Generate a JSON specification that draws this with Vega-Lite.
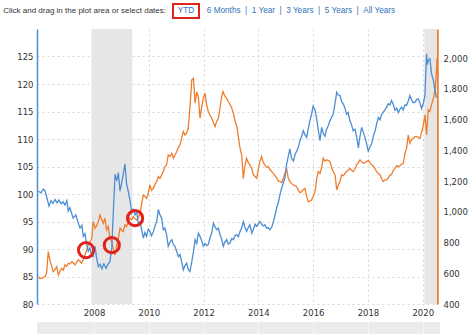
{
"$schema":"https://vega.github.io/schema/vega-lite/v6.json",
"background":"white",
"padding":{"left":2,"top":3,"right":0,"bottom":0},
"config":{"view":{"stroke":null},"axis":{"labelFont":"DejaVu Sans","labelFontSize":8.5,"labelColor":"#333333"}},
"datasets":{
"bands":[{"s":2007.91,"e":2009.40},{"s":2020.06,"e":2020.52}],
"annot":[{"t":2007.71,"v":89.8},{"t":2008.65,"v":90.7},{"t":2009.50,"v":95.6}],
"usd":[{"t":2005.97,"v":100.5},{"t":2006.07,"v":100.2},{"t":2006.15,"v":100.9},{"t":2006.21,"v":100.6},{"t":2006.27,"v":99.5},{"t":2006.36,"v":97.8},{"t":2006.43,"v":98.8},{"t":2006.50,"v":98.3},{"t":2006.58,"v":99.0},{"t":2006.65,"v":98.4},{"t":2006.72,"v":98.9},{"t":2006.80,"v":98.2},{"t":2006.87,"v":98.6},{"t":2006.94,"v":98.0},{"t":2007.01,"v":98.8},{"t":2007.06,"v":96.9},{"t":2007.12,"v":97.5},{"t":2007.24,"v":95.6},{"t":2007.34,"v":96.2},{"t":2007.42,"v":94.8},{"t":2007.49,"v":93.8},{"t":2007.56,"v":94.3},{"t":2007.61,"v":92.3},{"t":2007.67,"v":92.8},{"t":2007.73,"v":91.0},{"t":2007.79,"v":89.6},{"t":2007.85,"v":90.2},{"t":2007.91,"v":88.9},{"t":2007.97,"v":88.6},{"t":2008.04,"v":90.5},{"t":2008.09,"v":88.5},{"t":2008.16,"v":86.8},{"t":2008.22,"v":87.2},{"t":2008.29,"v":86.4},{"t":2008.36,"v":87.3},{"t":2008.44,"v":86.5},{"t":2008.51,"v":87.2},{"t":2008.58,"v":87.7},{"t":2008.65,"v":90.2},{"t":2008.69,"v":95.0},{"t":2008.77,"v":103.6},{"t":2008.83,"v":102.4},{"t":2008.89,"v":103.9},{"t":2008.95,"v":100.5},{"t":2009.00,"v":101.8},{"t":2009.07,"v":103.6},{"t":2009.13,"v":105.5},{"t":2009.19,"v":101.8},{"t":2009.25,"v":100.5},{"t":2009.31,"v":99.0},{"t":2009.38,"v":96.6},{"t":2009.43,"v":97.2},{"t":2009.50,"v":96.2},{"t":2009.56,"v":96.8},{"t":2009.62,"v":94.5},{"t":2009.68,"v":95.0},{"t":2009.74,"v":93.5},{"t":2009.80,"v":92.0},{"t":2009.86,"v":93.0},{"t":2009.92,"v":92.3},{"t":2009.98,"v":93.6},
{"t":2010.04,"v":93.2},{"t":2010.10,"v":92.4},{"t":2010.17,"v":93.2},{"t":2010.23,"v":94.2},{"t":2010.29,"v":95.0},{"t":2010.35,"v":97.2},{"t":2010.41,"v":96.2},{"t":2010.47,"v":95.6},{"t":2010.53,"v":93.5},{"t":2010.59,"v":93.8},{"t":2010.65,"v":92.6},{"t":2010.71,"v":90.5},{"t":2010.77,"v":91.2},{"t":2010.84,"v":91.7},{"t":2010.90,"v":90.8},{"t":2010.96,"v":90.5},{"t":2011.02,"v":89.5},{"t":2011.08,"v":88.6},{"t":2011.14,"v":89.0},{"t":2011.20,"v":87.7},{"t":2011.26,"v":86.2},{"t":2011.32,"v":87.0},{"t":2011.38,"v":87.4},{"t":2011.44,"v":86.3},{"t":2011.50,"v":85.9},{"t":2011.57,"v":87.7},{"t":2011.63,"v":89.5},{"t":2011.69,"v":91.7},{"t":2011.75,"v":91.0},{"t":2011.81,"v":92.9},{"t":2011.87,"v":92.3},{"t":2011.93,"v":91.5},{"t":2011.99,"v":90.5},{"t":2012.05,"v":91.0},{"t":2012.11,"v":90.6},{"t":2012.17,"v":90.8},{"t":2012.23,"v":92.0},{"t":2012.30,"v":93.0},{"t":2012.36,"v":94.7},{"t":2012.42,"v":94.0},{"t":2012.48,"v":93.5},{"t":2012.54,"v":93.8},{"t":2012.60,"v":92.6},{"t":2012.66,"v":91.8},{"t":2012.72,"v":90.5},{"t":2012.78,"v":91.3},{"t":2012.84,"v":91.7},{"t":2012.90,"v":90.9},{"t":2012.96,"v":91.1},{"t":2013.03,"v":91.9},{"t":2013.09,"v":91.7},{"t":2013.15,"v":92.4},{"t":2013.21,"v":92.6},{"t":2013.27,"v":92.2},{"t":2013.33,"v":93.2},{"t":2013.39,"v":93.8},{"t":2013.45,"v":95.0},{"t":2013.51,"v":94.0},{"t":2013.57,"v":93.2},{"t":2013.63,"v":93.9},{"t":2013.69,"v":94.4},{"t":2013.76,"v":92.9},{"t":2013.82,"v":93.6},{"t":2013.88,"v":94.5},{"t":2013.94,"v":94.1},{"t":2014.00,"v":94.6},{"t":2014.06,"v":95.0},{"t":2014.12,"v":94.5},{"t":2014.18,"v":94.2},{"t":2014.24,"v":94.4},{"t":2014.30,"v":93.8},{"t":2014.36,"v":93.9},{"t":2014.42,"v":93.5},{"t":2014.49,"v":94.0},{"t":2014.55,"v":95.0},{"t":2014.61,"v":96.2},{"t":2014.67,"v":97.5},{"t":2014.73,"v":98.5},{"t":2014.79,"v":99.9},{"t":2014.85,"v":101.1},{"t":2014.91,"v":102.0},{"t":2014.97,"v":103.0},{"t":2015.03,"v":105.4},{"t":2015.09,"v":106.8},{"t":2015.15,"v":108.2},{"t":2015.21,"v":106.5},{"t":2015.28,"v":106.0},{"t":2015.34,"v":107.2},{"t":2015.40,"v":107.8},{"t":2015.46,"v":108.6},{"t":2015.52,"v":109.7},{"t":2015.58,"v":110.5},{"t":2015.64,"v":111.5},{"t":2015.70,"v":110.8},{"t":2015.76,"v":110.3},{"t":2015.82,"v":111.8},{"t":2015.88,"v":113.3},{"t":2015.94,"v":114.5},{"t":2016.00,"v":116.0},{"t":2016.07,"v":115.3},{"t":2016.13,"v":113.6},{"t":2016.19,"v":111.5},{"t":2016.25,"v":109.7},{"t":2016.31,"v":112.1},{"t":2016.37,"v":111.0},{"t":2016.43,"v":110.5},{"t":2016.49,"v":111.8},{"t":2016.55,"v":112.4},{"t":2016.61,"v":113.3},{"t":2016.67,"v":113.9},{"t":2016.73,"v":114.5},{"t":2016.80,"v":116.5},{"t":2016.86,"v":118.5},{"t":2016.92,"v":118.0},{"t":2016.98,"v":117.9},{"t":2017.04,"v":116.8},{"t":2017.10,"v":116.4},{"t":2017.16,"v":115.6},{"t":2017.22,"v":114.5},{"t":2017.28,"v":114.8},{"t":2017.34,"v":113.3},{"t":2017.40,"v":112.6},{"t":2017.46,"v":111.5},{"t":2017.53,"v":111.8},{"t":2017.59,"v":110.3},{"t":2017.65,"v":108.4},{"t":2017.71,"v":110.5},{"t":2017.77,"v":112.1},{"t":2017.83,"v":111.2},{"t":2017.89,"v":110.3},{"t":2017.95,"v":109.2},{"t":2018.01,"v":107.8},{"t":2018.07,"v":108.5},{"t":2018.13,"v":109.1},{"t":2018.19,"v":110.4},{"t":2018.26,"v":111.5},{"t":2018.32,"v":112.8},{"t":2018.38,"v":113.9},{"t":2018.44,"v":113.5},{"t":2018.50,"v":114.5},{"t":2018.56,"v":114.9},{"t":2018.62,"v":115.3},{"t":2018.68,"v":115.8},{"t":2018.74,"v":116.4},{"t":2018.80,"v":116.2},{"t":2018.86,"v":117.0},{"t":2018.92,"v":116.3},{"t":2018.99,"v":115.2},{"t":2019.05,"v":115.6},{"t":2019.11,"v":114.8},{"t":2019.17,"v":115.4},{"t":2019.23,"v":115.8},{"t":2019.29,"v":115.3},{"t":2019.35,"v":116.2},{"t":2019.41,"v":116.1},{"t":2019.47,"v":116.9},{"t":2019.53,"v":117.9},{"t":2019.59,"v":117.1},{"t":2019.65,"v":116.6},{"t":2019.72,"v":116.7},{"t":2019.78,"v":117.2},{"t":2019.84,"v":117.3},{"t":2019.90,"v":116.5},{"t":2019.96,"v":115.5},{"t":2020.02,"v":116.5},{"t":2020.08,"v":117.9},{"t":2020.11,"v":122.0},{"t":2020.14,"v":125.5},{"t":2020.17,"v":123.5},{"t":2020.20,"v":124.3},{"t":2020.26,"v":124.6},{"t":2020.32,"v":121.9},{"t":2020.39,"v":120.6},{"t":2020.45,"v":118.8},{"t":2020.50,"v":117.5}],
"gold":[{"t":2005.97,"v":578},{"t":2006.03,"v":566},{"t":2006.09,"v":567},{"t":2006.15,"v":572},{"t":2006.21,"v":578},{"t":2006.27,"v":600},{"t":2006.33,"v":741},{"t":2006.39,"v":687},{"t":2006.46,"v":643},{"t":2006.51,"v":610},{"t":2006.58,"v":625},{"t":2006.64,"v":643},{"t":2006.70,"v":589},{"t":2006.76,"v":615},{"t":2006.82,"v":632},{"t":2006.88,"v":620},{"t":2006.94,"v":654},{"t":2007.00,"v":645},{"t":2007.06,"v":665},{"t":2007.12,"v":660},{"t":2007.19,"v":676},{"t":2007.24,"v":668},{"t":2007.31,"v":654},{"t":2007.37,"v":672},{"t":2007.43,"v":687},{"t":2007.49,"v":678},{"t":2007.55,"v":665},{"t":2007.61,"v":690},{"t":2007.67,"v":719},{"t":2007.73,"v":750},{"t":2007.79,"v":784},{"t":2007.85,"v":800},{"t":2007.92,"v":827},{"t":2007.97,"v":936},{"t":2008.04,"v":893},{"t":2008.10,"v":910},{"t":2008.16,"v":936},{"t":2008.22,"v":980},{"t":2008.28,"v":950},{"t":2008.34,"v":925},{"t":2008.40,"v":958},{"t":2008.46,"v":882},{"t":2008.52,"v":904},{"t":2008.58,"v":827},{"t":2008.65,"v":806},{"t":2008.70,"v":760},{"t":2008.77,"v":719},{"t":2008.83,"v":784},{"t":2008.89,"v":827},{"t":2008.95,"v":893},{"t":2009.01,"v":880},{"t":2009.07,"v":871},{"t":2009.13,"v":915},{"t":2009.19,"v":904},{"t":2009.25,"v":930},{"t":2009.31,"v":958},{"t":2009.38,"v":950},{"t":2009.43,"v":969},{"t":2009.50,"v":955},{"t":2009.56,"v":947},{"t":2009.62,"v":965},{"t":2009.68,"v":990},{"t":2009.74,"v":1050},{"t":2009.80,"v":1110},{"t":2009.86,"v":1100},{"t":2009.92,"v":1088},{"t":2009.98,"v":1120},
{"t":2010.04,"v":1175},{"t":2010.10,"v":1140},{"t":2010.17,"v":1153},{"t":2010.23,"v":1180},{"t":2010.29,"v":1197},{"t":2010.35,"v":1230},{"t":2010.41,"v":1218},{"t":2010.47,"v":1240},{"t":2010.53,"v":1262},{"t":2010.59,"v":1294},{"t":2010.65,"v":1306},{"t":2010.71,"v":1371},{"t":2010.77,"v":1360},{"t":2010.84,"v":1381},{"t":2010.90,"v":1349},{"t":2010.96,"v":1370},{"t":2011.02,"v":1392},{"t":2011.08,"v":1420},{"t":2011.14,"v":1436},{"t":2011.20,"v":1480},{"t":2011.26,"v":1523},{"t":2011.32,"v":1500},{"t":2011.38,"v":1512},{"t":2011.44,"v":1544},{"t":2011.50,"v":1674},{"t":2011.57,"v":1859},{"t":2011.63,"v":1870},{"t":2011.69,"v":1707},{"t":2011.75,"v":1780},{"t":2011.81,"v":1751},{"t":2011.87,"v":1609},{"t":2011.93,"v":1680},{"t":2011.99,"v":1740},{"t":2012.05,"v":1772},{"t":2012.11,"v":1700},{"t":2012.17,"v":1653},{"t":2012.23,"v":1630},{"t":2012.30,"v":1609},{"t":2012.36,"v":1580},{"t":2012.42,"v":1555},{"t":2012.48,"v":1590},{"t":2012.54,"v":1609},{"t":2012.60,"v":1674},{"t":2012.66,"v":1750},{"t":2012.71,"v":1783},{"t":2012.78,"v":1751},{"t":2012.84,"v":1740},{"t":2012.90,"v":1718},{"t":2012.96,"v":1700},{"t":2013.03,"v":1674},{"t":2013.09,"v":1640},{"t":2013.15,"v":1588},{"t":2013.21,"v":1560},{"t":2013.27,"v":1490},{"t":2013.33,"v":1414},{"t":2013.39,"v":1371},{"t":2013.45,"v":1218},{"t":2013.51,"v":1300},{"t":2013.57,"v":1349},{"t":2013.63,"v":1320},{"t":2013.69,"v":1306},{"t":2013.76,"v":1280},{"t":2013.82,"v":1240},{"t":2013.88,"v":1230},{"t":2013.94,"v":1218},{"t":2014.00,"v":1280},{"t":2014.06,"v":1330},{"t":2014.12,"v":1360},{"t":2014.18,"v":1320},{"t":2014.24,"v":1306},{"t":2014.30,"v":1290},{"t":2014.36,"v":1294},{"t":2014.42,"v":1275},{"t":2014.49,"v":1262},{"t":2014.55,"v":1250},{"t":2014.61,"v":1235},{"t":2014.67,"v":1220},{"t":2014.73,"v":1200},{"t":2014.79,"v":1197},{"t":2014.85,"v":1190},{"t":2014.91,"v":1218},{"t":2014.97,"v":1250},{"t":2015.03,"v":1283},{"t":2015.09,"v":1220},{"t":2015.15,"v":1197},{"t":2015.21,"v":1185},{"t":2015.28,"v":1175},{"t":2015.34,"v":1170},{"t":2015.40,"v":1164},{"t":2015.46,"v":1140},{"t":2015.52,"v":1125},{"t":2015.58,"v":1131},{"t":2015.64,"v":1145},{"t":2015.70,"v":1153},{"t":2015.76,"v":1100},{"t":2015.82,"v":1066},{"t":2015.88,"v":1070},{"t":2015.94,"v":1077},{"t":2016.00,"v":1100},{"t":2016.07,"v":1131},{"t":2016.13,"v":1218},{"t":2016.19,"v":1262},{"t":2016.25,"v":1250},{"t":2016.31,"v":1290},{"t":2016.37,"v":1349},{"t":2016.43,"v":1330},{"t":2016.49,"v":1338},{"t":2016.55,"v":1335},{"t":2016.61,"v":1327},{"t":2016.67,"v":1290},{"t":2016.73,"v":1262},{"t":2016.80,"v":1240},{"t":2016.86,"v":1143},{"t":2016.92,"v":1175},{"t":2016.98,"v":1197},{"t":2017.04,"v":1240},{"t":2017.10,"v":1235},{"t":2017.16,"v":1250},{"t":2017.22,"v":1262},{"t":2017.28,"v":1270},{"t":2017.34,"v":1283},{"t":2017.40,"v":1270},{"t":2017.46,"v":1262},{"t":2017.53,"v":1280},{"t":2017.59,"v":1306},{"t":2017.65,"v":1320},{"t":2017.71,"v":1338},{"t":2017.77,"v":1325},{"t":2017.83,"v":1316},{"t":2017.89,"v":1320},{"t":2017.95,"v":1327},{"t":2018.01,"v":1335},{"t":2018.07,"v":1320},{"t":2018.13,"v":1306},{"t":2018.19,"v":1300},{"t":2018.26,"v":1280},{"t":2018.32,"v":1260},{"t":2018.38,"v":1250},{"t":2018.44,"v":1240},{"t":2018.50,"v":1215},{"t":2018.56,"v":1197},{"t":2018.62,"v":1208},{"t":2018.68,"v":1208},{"t":2018.74,"v":1220},{"t":2018.80,"v":1240},{"t":2018.86,"v":1240},{"t":2018.92,"v":1270},{"t":2018.99,"v":1283},{"t":2019.05,"v":1300},{"t":2019.11,"v":1294},{"t":2019.17,"v":1300},{"t":2019.23,"v":1310},{"t":2019.29,"v":1316},{"t":2019.35,"v":1380},{"t":2019.41,"v":1414},{"t":2019.47,"v":1500},{"t":2019.53,"v":1447},{"t":2019.59,"v":1470},{"t":2019.65,"v":1479},{"t":2019.72,"v":1490},{"t":2019.78,"v":1490},{"t":2019.84,"v":1485},{"t":2019.90,"v":1479},{"t":2019.96,"v":1520},{"t":2020.00,"v":1544},{"t":2020.08,"v":1631},{"t":2020.14,"v":1501},{"t":2020.20,"v":1664},{"t":2020.26,"v":1653},{"t":2020.32,"v":1696},{"t":2020.39,"v":1740},{"t":2020.45,"v":1794},{"t":2020.50,"v":1913},{"t":2020.52,"v":2000}]
},
"spacing":10,
"align":"none",
"vconcat":[
{"spacing":6,"hconcat":[
{"width":129,"height":14,"data":{"values":[{"label":"Click and drag in the plot area or select dates:"}]},"mark":{"type":"text","font":"Liberation Sans","fontSize":8,"color":"#333333","align":"right"},"encoding":{"x":{"datum":1,"type":"quantitative","scale":{"domain":[0,1]},"axis":null},"text":{"field":"label","type":"nominal"}}},
{"width":26,"height":14,"view":{"stroke":"#e0231b","strokeWidth":2},"data":{"values":[{"label":"YTD"}]},"mark":{"type":"text","font":"Liberation Sans","fontSize":8.2,"color":"#2f73b8"},"encoding":{"text":{"field":"label","type":"nominal"}}},
{"width":188,"height":14,"data":{"values":[{"label":"6 Months\u00a0\u00a0|\u00a0\u00a01 Year\u00a0\u00a0|\u00a0\u00a03 Years\u00a0\u00a0|\u00a0\u00a05 Years\u00a0\u00a0|\u00a0\u00a0All Years"}]},"mark":{"type":"text","font":"Liberation Sans","fontSize":8.2,"color":"#2f73b8"},"encoding":{"text":{"field":"label","type":"nominal"}}}
]},
{"spacing":5,"align":"none","vconcat":[
{"width":400,"height":275,
"layer":[
{"data":{"name":"bands"},"mark":{"type":"rect","color":"#e6e6e6"},
 "encoding":{"x":{"field":"s","type":"quantitative","scale":{"domain":[2005.92,2020.52],"nice":false,"zero":false},
   "axis":{"values":[2008,2010,2012,2014,2016,2018,2020],"format":"d","title":null,"grid":true,"gridColor":"#d6d6d6","gridDash":[2,3],"domain":false,"ticks":false,"labelPadding":4}},
  "x2":{"field":"e"}}},
{"data":{"name":"gold"},"mark":{"type":"line","color":"#ef7d2c","strokeWidth":1.3},
 "encoding":{"x":{"field":"t","type":"quantitative","scale":{"domain":[2005.92,2020.52],"nice":false,"zero":false}},
  "y":{"field":"v","type":"quantitative","scale":{"domain":[400,2190],"nice":false,"zero":false},
   "axis":{"orient":"right","values":[400,600,800,1000,1200,1400,1600,1800,2000],"format":",d","title":null,"grid":false,"domain":true,"domainColor":"#ef7d2c","domainWidth":2.5,"ticks":false,"labelPadding":6}}}},
{"layer":[
 {"data":{"name":"usd"},"mark":{"type":"line","color":"#4b8ed4","strokeWidth":1.3},
  "encoding":{"x":{"field":"t","type":"quantitative","scale":{"domain":[2005.92,2020.52],"nice":false,"zero":false}},
   "y":{"field":"v","type":"quantitative","scale":{"domain":[80,130],"nice":false,"zero":false},
    "axis":{"orient":"left","values":[80,85,90,95,100,105,110,115,120,125],"title":null,"grid":true,"gridColor":"#d6d6d6","gridDash":[2,3],"domain":true,"domainColor":"#4b8ed4","domainWidth":1.5,"ticks":false,"labelPadding":4,"minExtent":35}}}},
 {"data":{"name":"annot"},"mark":{"type":"point","shape":"circle","filled":false,"color":"#e3211b","strokeWidth":3,"size":230,"opacity":1},
  "encoding":{"x":{"field":"t","type":"quantitative","scale":{"domain":[2005.92,2020.52],"nice":false,"zero":false}},
   "y":{"field":"v","type":"quantitative","scale":{"domain":[80,130],"nice":false,"zero":false},
    "axis":{"orient":"left","values":[80,85,90,95,100,105,110,115,120,125],"title":null,"grid":true,"gridColor":"#d6d6d6","gridDash":[2,3],"domain":true,"domainColor":"#4b8ed4","domainWidth":1.5,"ticks":false,"labelPadding":4,"minExtent":35}}}}
]}
],
"resolve":{"scale":{"y":"independent"}}},
{"width":403,"height":16,"data":{"name":"gold"},"view":{"fill":"#ebebeb","stroke":null},
 "mark":{"type":"line","opacity":0},
 "encoding":{"x":{"field":"t","type":"quantitative","scale":{"domain":[2005.92,2020.63],"nice":false,"zero":false},
   "axis":{"values":[2008,2010,2012,2014,2016,2018,2020],"labels":false,"ticks":false,"domain":false,"grid":true,"gridColor":"#f6f6f6","title":null}},
  "y":{"field":"v","type":"quantitative","axis":null}}}
]}
]
}
